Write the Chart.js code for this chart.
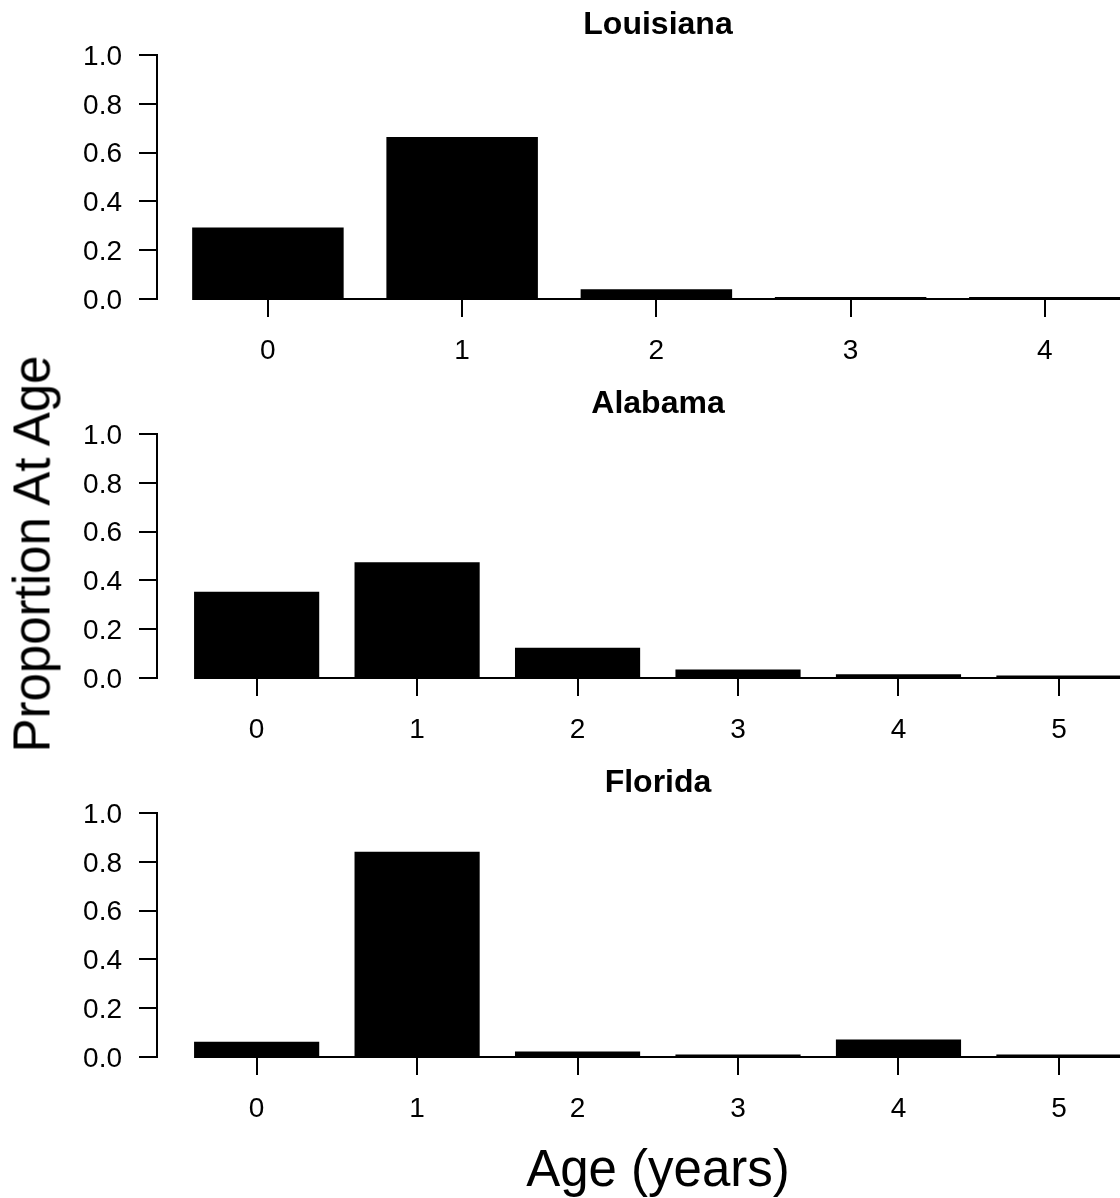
<!DOCTYPE html>
<html>
<head>
<meta charset="utf-8">
<script src="https://cdn.jsdelivr.net/npm/chart.js@4.4.0/dist/chart.umd.min.js"></script>
<style>
  body { margin: 0; width: 1120px; height: 1198px; overflow: hidden; background: #fff; position: relative;
         font-family: "Liberation Sans", Arial, sans-serif; color: #000; }
  canvas { position: absolute; left: 0; }
  .ylab { position: absolute; left: 32px; top: 554px; font-size: 51px; line-height: 1; white-space: nowrap;
          transform: translate(-50%, -50%) rotate(-90deg); }
  .xlab { position: absolute; left: 658px; top: 1143px; font-size: 51px; line-height: 1; white-space: nowrap;
          transform: translateX(-50%); }
</style>
</head>
<body>
<canvas id="la" width="1316" height="378" style="top:0px"></canvas>
<canvas id="al" width="1316" height="378" style="top:379px"></canvas>
<canvas id="fl" width="1316" height="378" style="top:758px"></canvas>
<div class="ylab">Proportion At Age</div>
<div class="xlab">Age (years)</div>
<script>
// proportion at age, by state
const laAges = [0, 1, 2, 3, 4];
const laProp = [0.293, 0.664, 0.040, 0.008, 0.008];

const alAges = [0, 1, 2, 3, 4, 5];
const alProp = [0.353, 0.474, 0.124, 0.035, 0.015, 0.010];

const flAges = [0, 1, 2, 3, 4, 5];
const flProp = [0.062, 0.841, 0.023, 0.010, 0.072, 0.010];

const yTicks = [0, 0.2, 0.4, 0.6, 0.8, 1.0];

Chart.defaults.font.family = '"Liberation Sans", Arial, sans-serif';
Chart.defaults.color = '#000';

// line along zero, from the first bar out to the right edge
const baseline = {
    id: 'baseline',
    afterDatasetsDraw(chart) {
        const bars = chart.getDatasetMeta(0).data;
        const y0 = chart.scales.y.getPixelForValue(0);
        const ctx = chart.ctx;
        ctx.save();
        ctx.strokeStyle = '#000';
        ctx.lineWidth = 2;
        ctx.beginPath();
        ctx.moveTo(bars[0].x - bars[0].width / 2, y0);
        ctx.lineTo(chart.chartArea.right, y0);
        ctx.stroke();
        ctx.restore();
    }
};

function panel(id, title, ages, props, xMin, xMax) {
    new Chart(document.getElementById(id), {
        type: 'bar',
        data: {
            datasets: [{
                data: ages.map((a, i) => ({ x: a, y: props[i] })),
                backgroundColor: '#000',
                borderWidth: 0,
                barPercentage: 0.78,
                categoryPercentage: 1,
            }],
        },
        plugins: [baseline],
        options: {
            responsive: false,
            animation: false,
            layout: { padding: 0 },
            plugins: {
                legend: { display: false },
                tooltip: { enabled: false },
                title: {
                    display: true,
                    text: title,
                    color: '#000',
                    font: { size: 32, weight: 'bold' },
                    padding: { top: 6, bottom: 10.6 },
                },
            },
            scales: {
                x: {
                    type: 'linear',
                    offset: false,
                    min: xMin,
                    max: xMax,
                    afterBuildTicks: (axis) => { axis.ticks = ages.map(v => ({ value: v })); },
                    afterFit: (axis) => { axis.height = 79; },
                    border: { display: false },
                    grid: { offset: false, drawOnChartArea: false, drawTicks: true, tickLength: 18, lineWidth: 2, color: '#000' },
                    ticks: { font: { size: 28 }, padding: 17, maxRotation: 0, callback: v => String(v) },
                },
                y: {
                    min: 0,
                    max: 1,
                    afterBuildTicks: (axis) => { axis.ticks = yTicks.map(v => ({ value: v })); },
                    afterFit: (axis) => { axis.width = 157; },
                    border: { display: true, color: '#000', width: 2 },
                    grid: { drawOnChartArea: false, drawTicks: true, tickLength: 18, lineWidth: 2, color: '#000' },
                    ticks: { font: { size: 28 }, padding: 17, labelOffset: 2, callback: v => v.toFixed(1) },
                },
            },
        },
    });
}

panel('la', 'Louisiana', laAges, laProp, -0.571, 5.396);
panel('al', 'Alabama', alAges, alProp, -0.621, 6.602);
panel('fl', 'Florida', flAges, flProp, -0.621, 6.602);
</script>
</body>
</html>
